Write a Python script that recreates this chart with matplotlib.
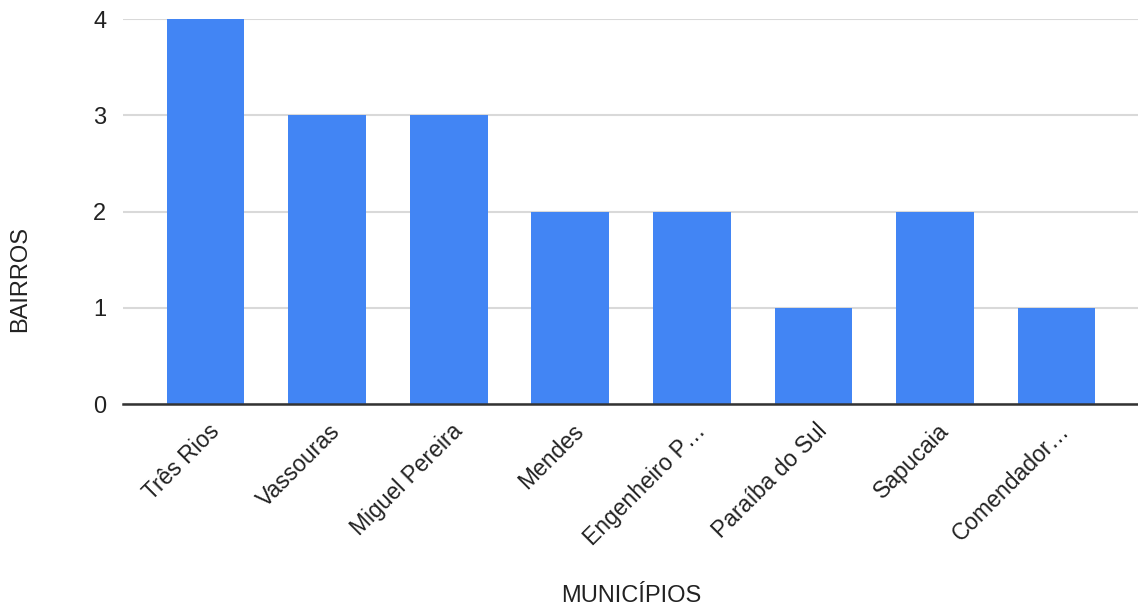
import matplotlib.pyplot as plt
import matplotlib.transforms as mtransforms

municipios = ['Três Rios', 'Vassouras', 'Miguel Pereira', 'Mendes',
              'Engenheiro P…', 'Paraíba do Sul', 'Sapucaia', 'Comendador…']
bairros = [4, 3, 3, 2, 2, 1, 2, 1]
y_ticks = [0, 1, 2, 3, 4]

plt.rcParams['font.family'] = ['Liberation Sans', 'DejaVu Sans']

fig = plt.figure(figsize=(11.38, 6.14), dpi=100)
ax = fig.add_axes([0.108, 0.342, 0.892, 0.627])

x = list(range(len(municipios)))
ax.bar(x, bairros, width=0.64, color='#4285f4', zorder=3)

ax.set_xlim(-0.68, 7.67)
ax.set_ylim(0, 4)
ax.set_yticks(y_ticks)
ax.set_yticklabels([str(v) for v in y_ticks], fontsize=17, color='#222222')
ax.yaxis.grid(True, color='#d9d9d9', linewidth=1.5, zorder=0)
ax.set_axisbelow(True)

ax.set_xticks(x)
ax.set_xticklabels(municipios, rotation=45, ha='right', va='center',
                   rotation_mode='anchor', fontsize=16.5, color='#222222')

ax.tick_params(axis='both', length=0)
ax.tick_params(axis='x', pad=17)
ax.tick_params(axis='y', pad=12)

for side in ['top', 'right', 'left']:
    ax.spines[side].set_visible(False)
ax.spines['bottom'].set_color('#333333')
ax.spines['bottom'].set_linewidth(1.8)
ax.spines['bottom'].set_zorder(4)

fig.text(0.555, 0.012, 'MUNICÍPIOS', ha='center', va='bottom', fontsize=17, color='#222222')
fig.text(0.018, 0.545, 'BAIRROS', ha='center', va='center', rotation=90, fontsize=17, color='#222222')

# labels sit a little right of the bar centre, shift them after ticks are final
offset = mtransforms.ScaledTranslation(0.1, 0, fig.dpi_scale_trans)
for tick in ax.xaxis.get_major_ticks():
    tick.label1.set_transform(tick.label1.get_transform() + offset)

fig.savefig('out.png', dpi=100)
